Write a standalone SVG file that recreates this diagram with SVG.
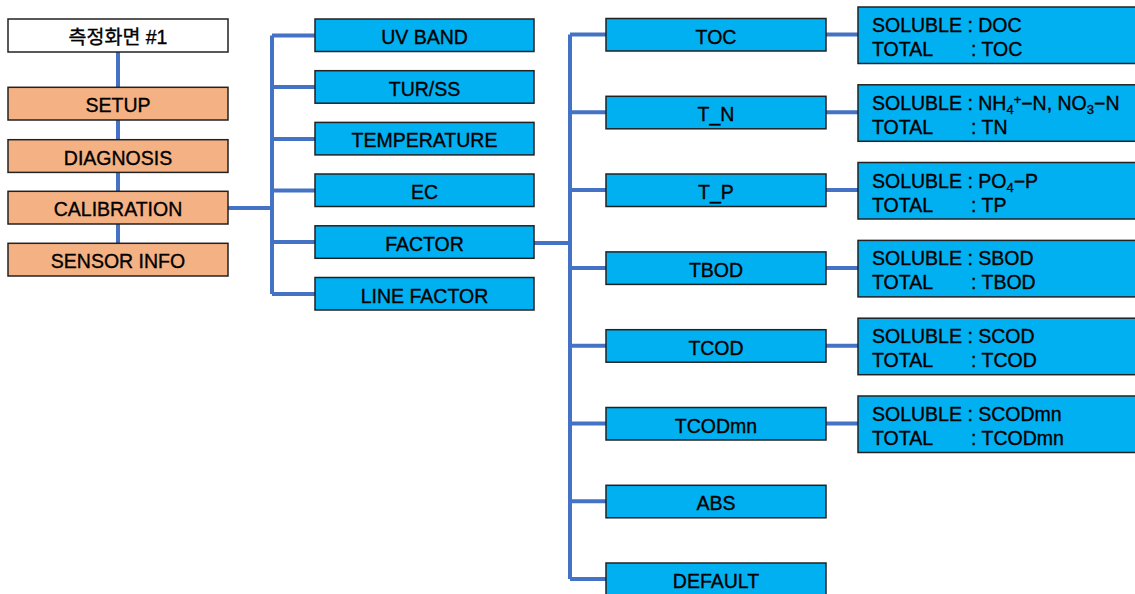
<svg xmlns="http://www.w3.org/2000/svg" width="1135" height="594" viewBox="0 0 1135 594">
<style>
text{font-family:"Liberation Sans","Noto Sans CJK KR",sans-serif;font-size:19.5px;fill:#000;stroke:#000;stroke-width:0.35}
.c{text-anchor:middle}
.w{fill:#fff;stroke:#222;stroke-width:1.5}
.o{fill:#F4B183;stroke:#222;stroke-width:1.5}
.b{fill:#00B0F0;stroke:#222;stroke-width:1.5}
.ln{fill:none;stroke:#4472C4;stroke-width:4}
.sub{font-size:13px}
</style>
<g id="connectors">
<path class="ln" d="M118 52V243"/>
<path class="ln" d="M228 208H272M272 35.5V294M272 35.5H315M272 87H315M272 139H315M272 190.5H315M272 242H315M272 294H315"/>
<path class="ln" d="M534 243H570M570 34.5V579M570 34.5H606M570 112.3H606M570 190H606M570 267.9H606M570 345.7H606M570 423.5H606M570 501.3H606M570 579H606"/>
<path class="ln" d="M826 34.5H858M826 112.3H858M826 190H858M826 267.9H858M826 345.7H858M826 423.5H858"/>
</g>
<g id="n-title"><rect class="w" x="8" y="19" width="220" height="33"/><text class="c" x="118" y="44">측정화면 #1</text></g>
<g id="n-setup"><rect class="o" x="8" y="87.3" width="220" height="32.7"/><text class="c" x="118" y="112.3">SETUP</text></g>
<g id="n-diagnosis"><rect class="o" x="8" y="139.7" width="220" height="32.7"/><text class="c" x="118" y="164.7">DIAGNOSIS</text></g>
<g id="n-calibration"><rect class="o" x="8" y="191.3" width="220" height="32.7"/><text class="c" x="118" y="216.3">CALIBRATION</text></g>
<g id="n-sensorinfo"><rect class="o" x="8" y="243.3" width="220" height="32.7"/><text class="c" x="118" y="268.3">SENSOR INFO</text></g>

<g id="n-uvband"><rect class="b" x="315" y="19" width="219" height="32.5"/><text class="c" x="424.5" y="44">UV BAND</text></g>
<g id="n-turss"><rect class="b" x="315" y="70.7" width="219" height="32.5"/><text class="c" x="424.5" y="95.7">TUR/SS</text></g>
<g id="n-temperature"><rect class="b" x="315" y="122.4" width="219" height="32.5"/><text class="c" x="424.5" y="147.4">TEMPERATURE</text></g>
<g id="n-ec"><rect class="b" x="315" y="174" width="219" height="32.5"/><text class="c" x="424.5" y="199">EC</text></g>
<g id="n-factor"><rect class="b" x="315" y="225.8" width="219" height="32.5"/><text class="c" x="424.5" y="250.8">FACTOR</text></g>
<g id="n-linefactor"><rect class="b" x="315" y="277.5" width="219" height="32.5"/><text class="c" x="424.5" y="302.5">LINE FACTOR</text></g>

<g id="n-toc"><rect class="b" x="606" y="18.5" width="220" height="32.5"/><text class="c" x="716" y="43.5">TOC</text></g>
<g id="n-tn"><rect class="b" x="606" y="96.3" width="220" height="32.5"/><text class="c" x="716" y="121.3">T_N</text></g>
<g id="n-tp"><rect class="b" x="606" y="174" width="220" height="32.5"/><text class="c" x="716" y="199">T_P</text></g>
<g id="n-tbod"><rect class="b" x="606" y="251.9" width="220" height="32.5"/><text class="c" x="716" y="276.9">TBOD</text></g>
<g id="n-tcod"><rect class="b" x="606" y="329.7" width="220" height="32.5"/><text class="c" x="716" y="354.7">TCOD</text></g>
<g id="n-tcodmn"><rect class="b" x="606" y="407.5" width="220" height="32.5"/><text class="c" x="716" y="432.5">TCODmn</text></g>
<g id="n-abs"><rect class="b" x="606" y="485.3" width="220" height="32.5"/><text class="c" x="716" y="510.3">ABS</text></g>
<g id="n-default"><rect class="b" x="606" y="563" width="220" height="34"/><text class="c" x="716" y="588">DEFAULT</text></g>

<g id="d-toc"><rect class="b" x="858" y="7" width="285" height="56.5"/><text x="872" y="32">SOLUBLE : DOC</text><text x="872" y="56">TOTAL</text><text x="971" y="56">: TOC</text></g>
<g id="d-tn"><rect class="b" x="858" y="84.8" width="285" height="56.5"/><text x="872" y="109.8">SOLUBLE : NH<tspan class="sub" dy="4">4</tspan><tspan class="sub" dy="-10">+</tspan><tspan dy="6">−N, NO</tspan><tspan class="sub" dy="4">3</tspan><tspan dy="-4">−N</tspan></text><text x="872" y="133.8">TOTAL</text><text x="971" y="133.8">: TN</text></g>
<g id="d-tp"><rect class="b" x="858" y="162.5" width="285" height="56.5"/><text x="872" y="187.5">SOLUBLE : PO<tspan class="sub" dy="4">4</tspan><tspan dy="-4">−P</tspan></text><text x="872" y="211.5">TOTAL</text><text x="971" y="211.5">: TP</text></g>
<g id="d-tbod"><rect class="b" x="858" y="240.4" width="285" height="56.5"/><text x="872" y="265.4">SOLUBLE : SBOD</text><text x="872" y="289.4">TOTAL</text><text x="971" y="289.4">: TBOD</text></g>
<g id="d-tcod"><rect class="b" x="858" y="318.2" width="285" height="56.5"/><text x="872" y="343.2">SOLUBLE : SCOD</text><text x="872" y="367.2">TOTAL</text><text x="971" y="367.2">: TCOD</text></g>
<g id="d-tcodmn"><rect class="b" x="858" y="396" width="285" height="56.5"/><text x="872" y="421">SOLUBLE : SCODmn</text><text x="872" y="445">TOTAL</text><text x="971" y="445">: TCODmn</text></g>
</svg>
